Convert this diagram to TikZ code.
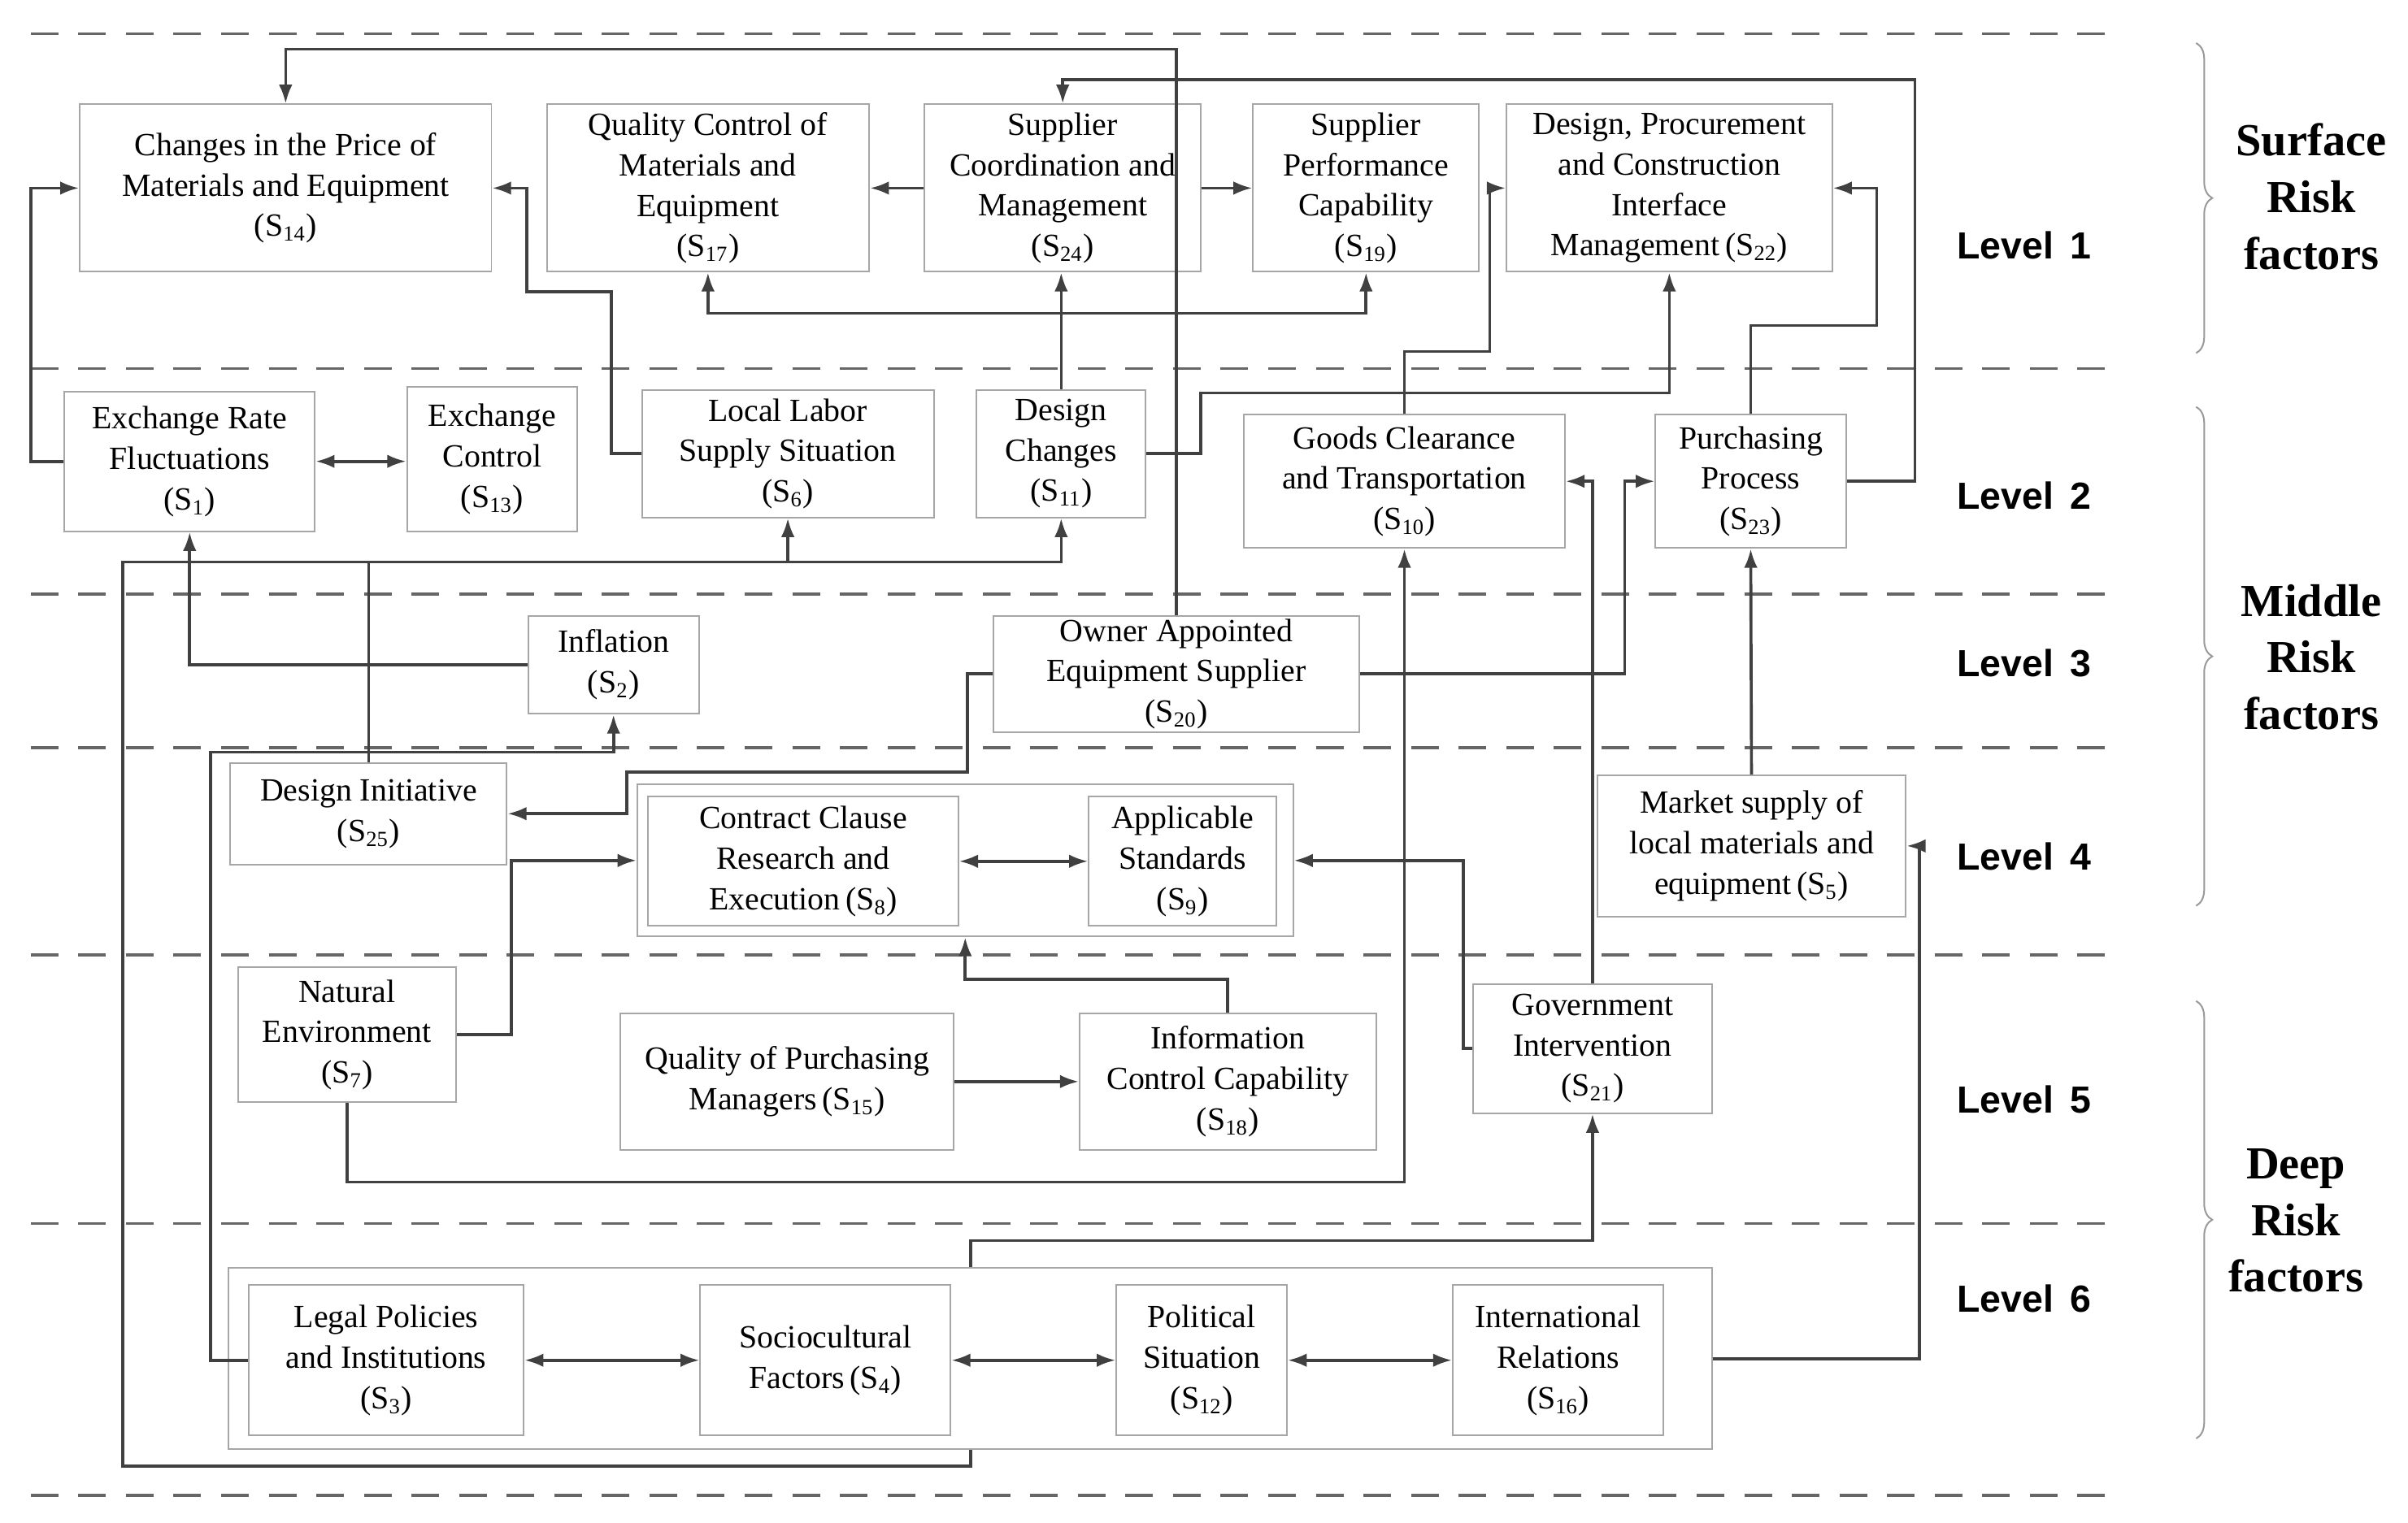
\documentclass[tikz,border=0pt]{standalone}
\usepackage{fontspec}
\setmainfont{Liberation Serif}
\newfontfamily\lvlfont{Liberation Sans}
\usetikzlibrary{positioning,arrows.meta,decorations.pathreplacing}
\newcommand{\sid}[1]{(S\textsubscript{#1})}
\begin{document}
\begin{tikzpicture}[x=0.02cm, y=-0.02cm,
    box/.style 2 args={rectangle, draw=black!35, line width=0.6pt, align=center, text=black,
        minimum width=#1*0.02cm, minimum height=#2*0.02cm, inner sep=1pt,
        font=\fontsize{12}{15}\selectfont},
    link/.style={draw=black!75, line width=1.1pt},
    arr/.style={link, -{Latex[length=7pt,width=5pt]}},
    darr/.style={link, {Latex[length=7pt,width=5pt]}-{Latex[length=7pt,width=5pt]}},
    sep/.style={draw=black!60, line width=1pt, dash pattern=on 0.36cm off 0.26cm},
    lvl/.style={font=\lvlfont\bfseries\fontsize{14}{16}\selectfont},
    risk/.style={font=\bfseries\fontsize{17}{21}\selectfont, align=center},
    brc/.style={draw=black!40, line width=0.6pt, decorate, decoration={brace, amplitude=6pt}}
]
\useasboundingbox (0,0) rectangle (1568,992);

% level separators
\foreach \yy in {22,240,387,487,622,797,974}
    \draw[sep] (20,\yy) -- (1375,\yy);

% level 1
\node[box={268}{109}] (s14) at (186,122.5) {Changes in the Price of\\Materials and Equipment\\\sid{14}};
\node[box={210}{109}] (s17) at (461,122.5) {Quality Control of\\Materials and\\Equipment\\\sid{17}};
\node[box={180}{109}] (s24) at (692,122.5) {Supplier\\Coordination and\\Management\\\sid{24}};
\node[box={147}{109}] (s19) at (889.5,122.5) {Supplier\\Performance\\Capability\\\sid{19}};
\node[box={212}{109}] (s22) at (1087,122.5) {Design, Procurement\\and Construction\\Interface\\Management\,\sid{22}};

% level 2
\node[box={163}{91}] (s1) at (123.5,300.5) {Exchange Rate\\Fluctuations\\\sid{1}};
\node[box={111}{94}] (s13) at (320.5,299) {Exchange\\Control\\\sid{13}};
\node[box={190}{83}] (s6) at (513,295.5) {Local Labor\\Supply Situation\\\sid{6}};
\node[box={110}{83}] (s11) at (691,295.5) {Design\\Changes\\\sid{11}};
\node[box={209}{87}] (s10) at (914.5,313.5) {Goods Clearance\\and Transportation\\\sid{10}};
\node[box={124}{87}] (s23) at (1140,313.5) {Purchasing\\Process\\\sid{23}};

% level 3
\node[box={111}{64}] (s2) at (399.5,433) {Inflation\\\sid{2}};
\node[box={238}{76}] (s20) at (766,439) {Owner Appointed\\Equipment Supplier\\\sid{20}};

% level 4
\node[box={180}{66}] (s25) at (240,530) {Design Initiative\\\sid{25}};
\node[box={427}{99}] (g4) at (628.5,560.5) {};
\node[box={202}{84}] (s8) at (523,561) {Contract Clause\\Research and\\Execution\,\sid{8}};
\node[box={122}{84}] (s9) at (770,561) {Applicable\\Standards\\\sid{9}};
\node[box={201}{92}] (s5) at (1140.5,551) {Market supply of\\local materials and\\equipment\,\sid{5}};

% level 5
\node[box={142}{88}] (s7) at (226,674) {Natural\\Environment\\\sid{7}};
\node[box={217}{89}] (s15) at (512.5,704.5) {Quality of Purchasing\\Managers\,\sid{15}};
\node[box={193}{89}] (s18) at (799.5,704.5) {Information\\Control Capability\\\sid{18}};
\node[box={156}{84}] (s21) at (1037,683) {Government\\Intervention\\\sid{21}};

% level 6
\node[box={966}{118}] (g6) at (632,885) {};
\node[box={179}{98}] (s3) at (251.5,886) {Legal Policies\\and Institutions\\\sid{3}};
\node[box={163}{98}] (s4) at (537.5,886) {Sociocultural\\Factors\,\sid{4}};
\node[box={111}{98}] (s12) at (782.5,886) {Political\\Situation\\\sid{12}};
\node[box={137}{98}] (s16) at (1014.5,886) {International\\Relations\\\sid{16}};

% connectors
\draw[arr] (s1.west) -- (20,300.5) |- (s14.west);
\draw[darr] (s1.east) -- (s1.east -| s13.west);
\draw[arr] (s6.west) -- (398,295.5) -- (398,190) -- (343,190) |- (s14.east);
\draw[arr] (s11.north) -- (s11.north |- s24.south);
\draw[arr] (s11.east) -- (782,295.5) |- (1087,256) -- (s22.south);
\draw[arr] (s10.north) |- (970,229) |- (s22.west);
\draw[arr] (s24.west) -- (s17.east);
\draw[arr] (s24.east) -- (s19.west);
\draw[darr] (s17.south) |- (889.5,204) -- (s19.south);
\draw[arr] (s23.north) |- (1222,212) |- (s22.east);
\draw[arr] (s23.east) -- (1247,313.5) |- (692,52) -- (s24.north);
\draw[arr] (s20.north) |- (186,32) -- (s14.north);
\draw[arr] (s20.east) -- (1058,439) |- (s23.west);
\draw[arr] (s21.north) |- (s10.east);
\draw[arr] (s2.west) -| (s1.south);
\draw[arr] (g6.south) -- (632,955) -| (80,366) -| (s11.south);
\draw[arr] (513,366) -- (s6.south);
\draw[link] (s25.north) -- (240,366);
\draw[arr] (g6.north) |- (1037,808) -- (s21.south);
\draw[arr] (s20.west) -- (630,439) |- (408,503) |- (s25.east);
\draw[arr] (s3.west) -| (137,490) -| (s2.south);
\draw[arr] (s7.east) -- (333,674) |- (g4.west);
\draw[darr] (s8.east) -- (s9.west);
\draw[arr] (s18.north) |- (628.5,638) -- (g4.south);
\draw[arr] (s15.east) -- (s18.west);
\draw[arr] (s21.west) -- (953,683) |- (g4.east);
\draw[arr] (s7.south) |- (914.5,770) -- (s10.south);
\draw[arr] (s5.north) -- (s23.south);
\draw[arr] (g6.east) -- (1250,885) |- (s5.east);
\draw[darr] (s3.east) -- (s4.west);
\draw[darr] (s4.east) -- (s12.west);
\draw[darr] (s12.east) -- (s16.west);

% level labels
\foreach \n/\yy in {1/160,2/323,3/432,4/558,5/716,6/846}
    \node[lvl] (lv\n) at (1318,\yy) {Level\, \n};

% risk groups
\draw[brc] (1430,28) -- (1430,230);
\draw[brc] (1430,265) -- (1430,590);
\draw[brc] (1430,652) -- (1430,937);
\node[risk] (surf) at (1505,128) {Surface\\Risk\\factors};
\node[risk] (mid) at (1505,428) {Middle\\Risk\\factors};
\node[risk] (deep) at (1495,795) {Deep\\Risk\\factors};
\end{tikzpicture}
\end{document}
